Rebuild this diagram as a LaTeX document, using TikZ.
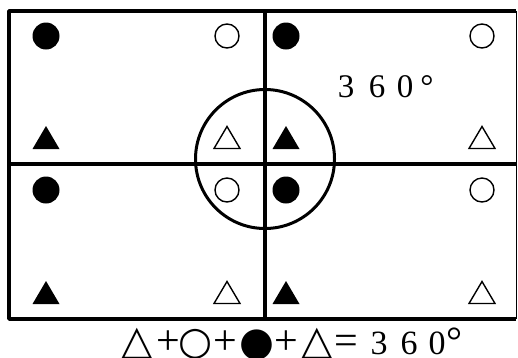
\documentclass[tikz,border=0pt]{standalone}
\usepackage{fontspec}
\setmainfont{Liberation Serif}
\newfontfamily\symfont{DejaVu Sans}
\begin{document}
\begin{tikzpicture}[x=1pt,y=-1pt,
  fdot/.style={circle,fill=black,inner sep=0pt,minimum size=27pt},
  odot/.style={circle,draw=black,line width=1.4pt,inner sep=0pt,minimum size=24pt},
  ftri/.style={fill=black},
  otri/.style={draw=black,line width=1.4pt,line join=miter},
  grid/.style={line width=3.2pt},
  glyph/.style={inner sep=0pt,anchor=base},
  dig/.style={glyph,font=\fontsize{33}{33}\selectfont},
  eqsym/.style={glyph,font=\symfont\fontsize{41}{41}\selectfont},
  eqop/.style={glyph,font=\fontsize{42}{42}\selectfont}]
\useasboundingbox (0,0) rectangle (518,357);
\fill[white] (0,0) rectangle (518,357);
% frame
\coordinate (tl) at (9,11);
\coordinate (tr) at (516,11);
\coordinate (br) at (516,319);
\coordinate (bl) at (9,319);
\draw[line width=3.8pt,line join=round] (tr) -- (tl) -- (bl) -- (br);
\draw[line width=1pt] (tr) -- (br);
\coordinate (vt) at (265,11);
\coordinate (vb) at (265,319);
\coordinate (hl) at (9,164);
\coordinate (hr) at (516,164);
\draw[grid] (vt) -- (vb);
\draw[grid] (hl) -- (hr);
\node[circle,draw,line width=3pt,minimum size=139pt,inner sep=0pt] (c) at (265,159) {};
% row 1 circles
\node[fdot] (a1) at (46,36) {};
\node[odot] (a2) at (227,36) {};
\node[fdot] (a3) at (286,36) {};
\node[odot] (a4) at (482,36) {};
% row 3 circles
\node[fdot] (b1) at (46,190) {};
\node[odot] (b2) at (227,190) {};
\node[fdot] (b3) at (286,190) {};
\node[odot] (b4) at (482,190) {};
% triangles row 2
\fill[ftri] (32.5,149) -- (59.5,149) -- (46,126) -- cycle;
\draw[otri] (214,148.5) -- (240,148.5) -- (227,126.5) -- cycle;
\fill[ftri] (272.5,149) -- (299.5,149) -- (286,126) -- cycle;
\draw[otri] (469,148.5) -- (495,148.5) -- (482,126.5) -- cycle;
% triangles row 4
\fill[ftri] (32.5,304) -- (59.5,304) -- (46,281) -- cycle;
\draw[otri] (214,303.5) -- (240,303.5) -- (227,281.5) -- cycle;
\fill[ftri] (272.5,304) -- (299.5,304) -- (286,281) -- cycle;
\draw[otri] (469,303.5) -- (495,303.5) -- (482,281.5) -- cycle;
% label 360
\node[dig] (t3) at (346,97) {3};
\node[dig] (t6) at (377,97) {6};
\node[dig] (t0) at (405,97) {0};
\node[dig] (td) at (427,97) {°};
% equation
\node[eqsym] (e1) at (137,354) {△};
\node[eqop] (e2) at (168,354) {+};
\node[eqsym,font=\symfont\fontsize{39}{39}\selectfont] (e3) at (196,354) {○};
\node[eqop] (e4) at (225,354) {+};
\node[eqsym,font=\symfont\fontsize{40}{40}\selectfont] (e5) at (257,355) {●};
\node[eqop] (e6) at (286,354) {+};
\node[eqsym] (e7) at (317,354) {△};
\node[eqop] (e8) at (346,354) {=};
\node[dig,font=\fontsize{34}{34}\selectfont] (e9) at (379,354) {3};
\node[dig,font=\fontsize{34}{34}\selectfont] (e10) at (409,354) {6};
\node[dig,font=\fontsize{34}{34}\selectfont] (e11) at (437,354) {0};
\node[dig,font=\fontsize{40}{40}\selectfont] (e12) at (454,354) {°};
\end{tikzpicture}
\end{document}
